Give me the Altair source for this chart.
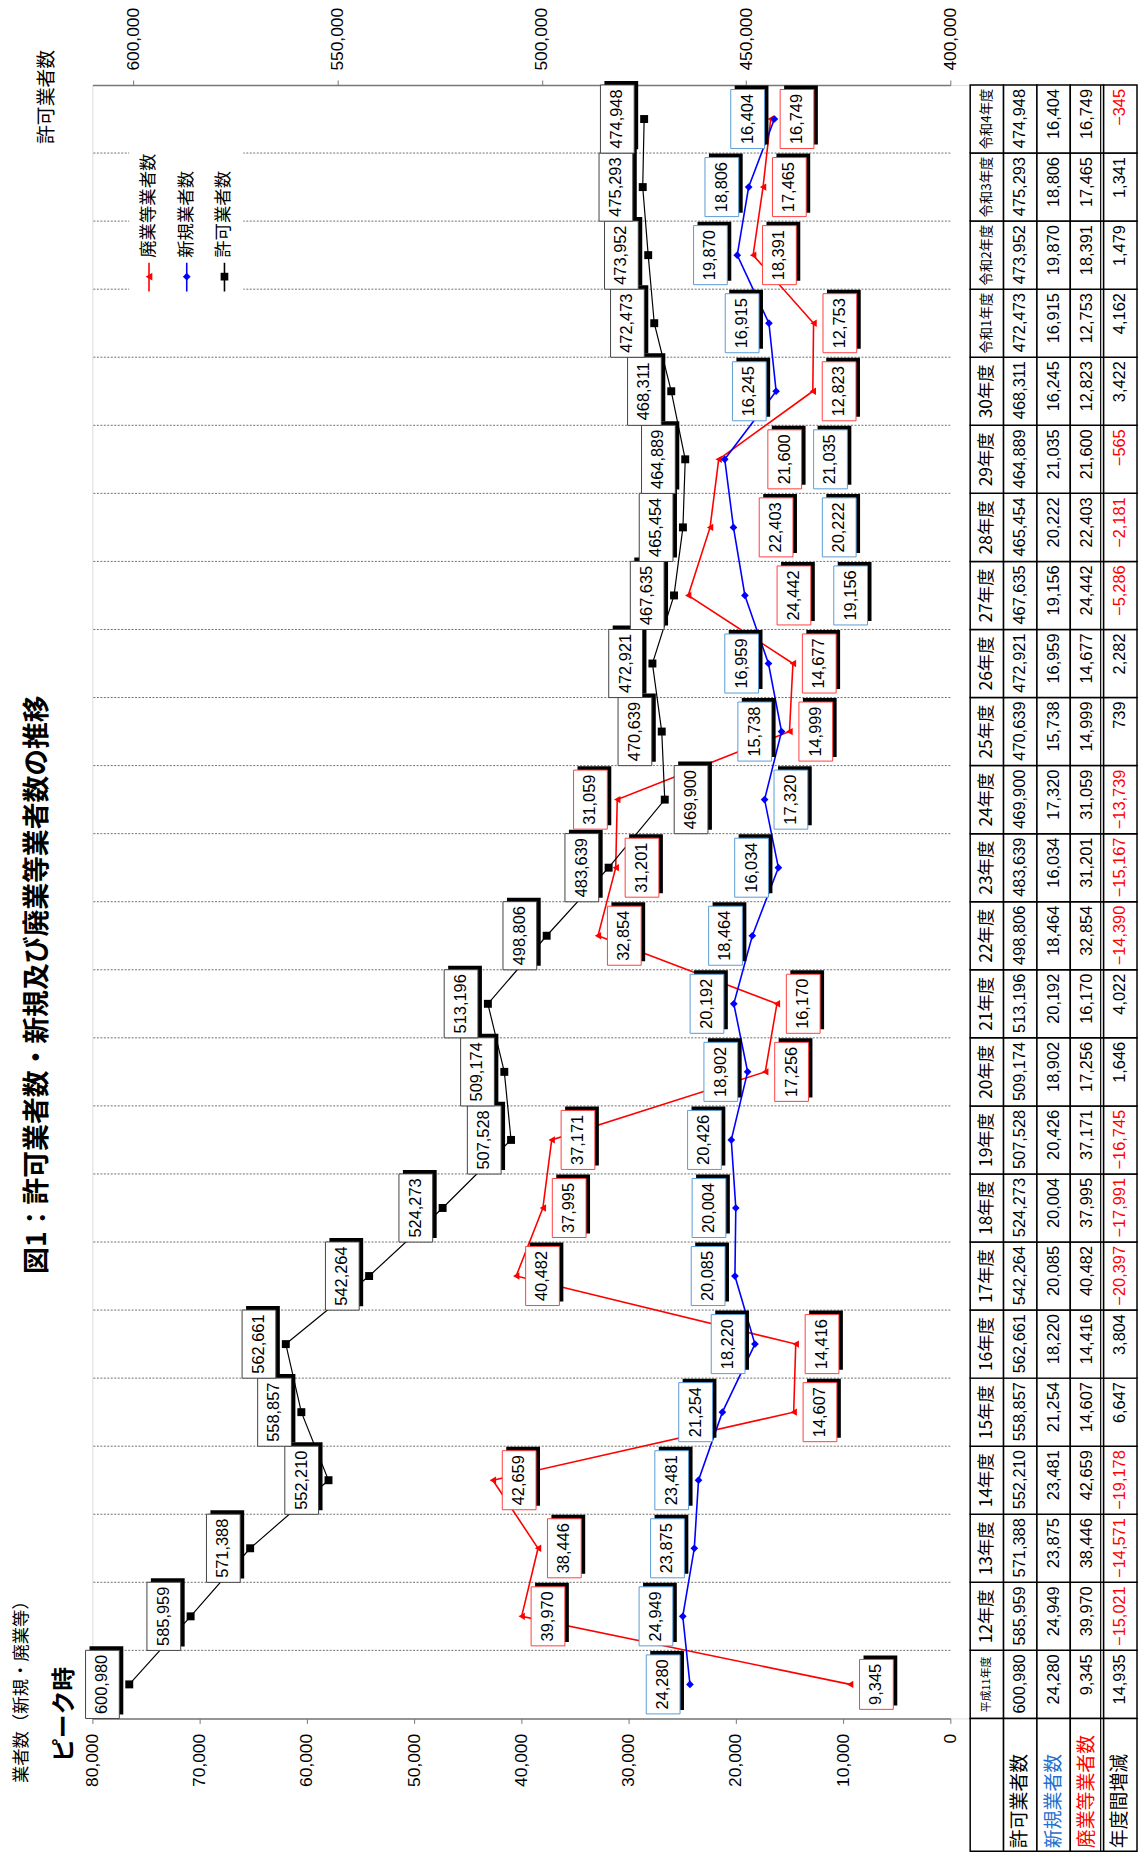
import altair as alt
import pandas as pd

# ---------------- data ----------------
years = ["平成11年度", "12年度", "13年度", "14年度", "15年度", "16年度", "17年度", "18年度",
         "19年度", "20年度", "21年度", "22年度", "23年度", "24年度", "25年度", "26年度",
         "27年度", "28年度", "29年度", "30年度", "令和1年度", "令和2年度", "令和3年度", "令和4年度"]
permit = [600980, 585959, 571388, 552210, 558857, 562661, 542264, 524273, 507528, 509174,
          513196, 498806, 483639, 469900, 470639, 472921, 467635, 465454, 464889, 468311,
          472473, 473952, 475293, 474948]
new = [24280, 24949, 23875, 23481, 21254, 18220, 20085, 20004, 20426, 18902, 20192, 18464,
       16034, 17320, 15738, 16959, 19156, 20222, 21035, 16245, 16915, 19870, 18806, 16404]
closed = [9345, 39970, 38446, 42659, 14607, 14416, 40482, 37995, 37171, 17256, 16170, 32854,
          31201, 31059, 14999, 14677, 24442, 22403, 21600, 12823, 12753, 18391, 17465, 16749]
change = [14935, -15021, -14571, -19178, 6647, 3804, -20397, -17991, -16745, 1646, 4022,
          -14390, -15167, -13739, 739, 2282, -5286, -2181, -565, 3422, 4162, 1479, 1341, -345]

left_ticks = [0, 10000, 20000, 30000, 40000, 50000, 60000, 70000, 80000]
right_ticks = [400000, 450000, 500000, 550000, 600000]

series_names = ["廃業等業者数", "新規業者数", "許可業者数"]
row_names = ["許可業者数", "新規業者数", "廃業等業者数", "年度間増減"]

# label placement hints: sign = side of the point (-left / +right), magnitude = slot
permit_side = [-1] * 13 + [1] + [-1] * 10
new_side = [-1] * 13 + [1] + [-1, -1, 3, 3, 3] + [-1] * 5
closed_side = [1] * 13 + [-1] + [1, 1, 3, 2, 2] + [1] * 5

# ---------------- layout constants ----------------
PW = 864          # width of the value area
W = 1053          # full layer width (value area + table)
H = 1645          # plot height
BAND = H / 24.0
NUM_FONT = "Liberation Sans, Arial, sans-serif"
CJK = "Noto Sans CJK JP"
LFS = 16.5        # data label font size
L_UPP = 80000 / PW
R_UPP = 210000 / PW

LS = alt.Scale(domain=[0, 80000], range=[PW, 0], nice=False, zero=False)
RSC = alt.Scale(domain=[400000, 610000], range=[PW, 0], nice=False, zero=False)
YS = alt.Scale(domain=[0, 24], nice=False, zero=False)
ROWS = ["hdr", "permit", "new", "closed", "change"]
TS = alt.Scale(domain=ROWS, range=[884, 1052], paddingInner=0, paddingOuter=0)

df = pd.DataFrame({
    "year": years, "idx": list(range(len(years))),
    "permit": permit, "new": new, "closed": closed, "change": change,
    "ps": permit_side, "ns": new_side, "cs": closed_side,
})

axis_common = dict(format=",.0f", labelAngle=270, labelBaseline="middle", labelFont=NUM_FONT,
                   labelFontSize=17.5, labelColor="black", labelPadding=10, tickSize=5,
                   tickColor="#777", domainColor="#777", domainWidth=1.5, grid=False,
                   title=None, labelOverlap=False, labelFlush=False)
bottom_axis = alt.Axis(orient="bottom", values=left_ticks, labelAlign="right", **axis_common)
top_axis = alt.Axis(orient="top", values=right_ticks, labelAlign="left", **axis_common)

layers = []

# gridlines at category boundaries
grid = alt.Chart(df).transform_filter("datum.idx > 0").transform_calculate(
    g0="0", g1="80000").mark_rule(color="#707070", strokeDash=[2, 1.5], strokeWidth=1).encode(
    x=alt.X("g0:Q", scale=LS, axis=None), x2="g1:Q",
    y=alt.Y("idx:Q", scale=YS, axis=None))
layers.append(grid)


def series(field, side, scale, upp, color, border, shape, size, sw, axis):
    base = alt.Chart(df).transform_calculate(yc="datum.idx + 0.5")
    line = base.mark_line(color=color, strokeWidth=sw).encode(
        x=alt.X(f"{field}:Q", scale=scale, axis=axis),
        y=alt.Y("yc:Q", scale=YS, axis=None), order="idx:Q")
    pts = base.mark_point(shape=shape, filled=True, size=size, color=color, opacity=1).encode(
        x=alt.X(f"{field}:Q", scale=scale, axis=None),
        y=alt.Y("yc:Q", scale=YS, axis=None))
    lab = base.transform_calculate(
        lbl=f"format(datum.{field}, ',')",
        off=f"datum.{side} < 0 ? -27 + (datum.{side} + 1) * 40 : 26.5 + (datum.{side} - 1) * 40",
        cx=f"datum.{field} - datum.off * {upp}",
        hh=f"((length(datum.lbl) - 1) * 0.556 * {LFS} + 0.278 * {LFS} + 9) / 2 / {BAND}",
        y0="datum.yc - datum.hh", y1="datum.yc + datum.hh")
    shadow = lab.mark_rect(color="black", xOffset=-13, x2Offset=21, yOffset=-4, y2Offset=-4).encode(
        x=alt.X("cx:Q", scale=scale, axis=None), x2="cx:Q",
        y=alt.Y("y0:Q", scale=YS, axis=None), y2="y1:Q")
    box = lab.mark_rect(fill="white", stroke=border, strokeWidth=1, xOffset=-17, x2Offset=17).encode(
        x=alt.X("cx:Q", scale=scale, axis=None), x2="cx:Q",
        y=alt.Y("y0:Q", scale=YS, axis=None), y2="y1:Q")
    txt = lab.mark_text(angle=270, font=NUM_FONT, fontSize=LFS, align="center",
                        baseline="middle", color="black").encode(
        x=alt.X("cx:Q", scale=scale, axis=None),
        y=alt.Y("yc:Q", scale=YS, axis=None), text="lbl:N")
    return [line, pts], [shadow, box, txt]


l1, b1 = series("closed", "cs", LS, L_UPP, "#FF0000", "#FF4040", "triangle-left", 55, 1.6, None)
l2, b2 = series("new", "ns", LS, L_UPP, "#0000FF", "#5B9BD5", "diamond", 60, 1.6, bottom_axis)
l3, b3 = series("permit", "ps", RSC, R_UPP, "#000000", "#444444", "square", 64, 1.2, top_axis)
layers += l1 + l2 + l3 + b3 + b2 + b1

# ---------------- legend ----------------
leg = pd.DataFrame({"name": series_names, "color": ["#FF0000", "#0000FF", "#000000"],
                    "shape": ["triangle-left", "diamond", "square"], "k": [0, 1, 2]})
leg_bg = alt.Chart(pd.DataFrame({"a": [0]})).mark_rect(fill="white").encode(
    x=alt.value(37), x2=alt.value(152), y=alt.value(61), y2=alt.value(213))
legbase = alt.Chart(leg).transform_calculate(lx="57 + datum.k * 38")
leg_line = legbase.mark_rule(strokeWidth=1.6).encode(
    x=alt.X("lx:Q", scale=None), y=alt.value(179), y2=alt.value(208),
    color=alt.Color("color:N", scale=None))
leg_pt = legbase.mark_point(filled=True, size=60, opacity=1).encode(
    x=alt.X("lx:Q", scale=None), y=alt.value(193),
    color=alt.Color("color:N", scale=None), shape=alt.Shape("shape:N", scale=None))
leg_txt = legbase.mark_text(angle=270, align="left", baseline="middle", font=CJK,
                            fontSize=17.5, color="black").encode(
    x=alt.X("lx:Q", scale=None), y=alt.value(174), text="name:N")
layers += [leg_bg, leg_line, leg_pt, leg_txt]

# ---------------- table ----------------
cells = pd.DataFrame([(i, r) for i in range(len(years)) for r in ROWS], columns=["idx", "row"])
cell_rect = alt.Chart(cells).transform_calculate(y0="datum.idx", y1="datum.idx + 1").mark_rect(
    fill="white", stroke="black", strokeWidth=1.5).encode(
    x=alt.X("row:N", scale=TS, axis=None), y=alt.Y("y0:Q", scale=YS, axis=None), y2="y1:Q")
rowlab = pd.DataFrame({"row": ROWS, "name": [""] + row_names,
                       "c": ["black", "black", "#1F6FD0", "#FF0000", "black"]})
rowlab_rect = alt.Chart(rowlab).transform_calculate(y0="-1.95", y1="0").mark_rect(
    fill="white", stroke="black", strokeWidth=1.5).encode(
    x=alt.X("row:N", scale=TS, axis=None), y=alt.Y("y0:Q", scale=YS, axis=None), y2="y1:Q")
rowlab_txt = alt.Chart(rowlab).transform_calculate(y0="-1.95").mark_text(
    angle=270, align="left", baseline="middle", font=CJK, fontSize=19, yOffset=-3).encode(
    x=alt.X("row:N", scale=TS, axis=None), y=alt.Y("y0:Q", scale=YS, axis=None),
    text="name:N", color=alt.Color("c:N", scale=None))
dbl = alt.Chart(pd.DataFrame({"row": ["change"]})).transform_calculate(
    y0="-1.95", y1="24").mark_rule(color="black", strokeWidth=1.2, xOffset=-3).encode(
    x=alt.X("row:N", scale=TS, axis=None, bandPosition=0),
    y=alt.Y("y0:Q", scale=YS, axis=None), y2="y1:Q")
hdr_txt = alt.Chart(df).transform_calculate(
    row="'hdr'", yc="datum.idx + 0.5",
    fs="length(datum.year) >= 6 ? 11 : (length(datum.year) == 5 ? 13.5 : 17.5)").mark_text(
    angle=270, align="center", baseline="middle", font=CJK, color="black").encode(
    x=alt.X("row:N", scale=TS, axis=None), y=alt.Y("yc:Q", scale=YS, axis=None),
    text="year:N", size=alt.Size("fs:Q", scale=None))
vals = []
for key, arr in [("permit", permit), ("new", new), ("closed", closed), ("change", change)]:
    for i, v in enumerate(arr):
        vals.append({"idx": i, "row": key, "v": v})
vals = pd.DataFrame(vals)
val_txt = alt.Chart(vals).transform_calculate(
    yt="datum.idx + 1", lbl="format(datum.v, ',')").mark_text(
    angle=270, align="right", baseline="middle", font=NUM_FONT, fontSize=16.5, yOffset=4).encode(
    x=alt.X("row:N", scale=TS, axis=None), y=alt.Y("yt:Q", scale=YS, axis=None),
    text="lbl:N",
    color=alt.condition("datum.v < 0", alt.value("#FF0000"), alt.value("black")))
layers += [cell_rect, rowlab_rect, dbl, hdr_txt, val_txt, rowlab_txt]

# ---------------- annotations ----------------
def note(text, x, y, size, bold=False):
    return alt.Chart(pd.DataFrame({"t": [text]})).mark_text(
        angle=270, align="center", baseline="middle", font=CJK, fontSize=size,
        fontWeight="bold" if bold else "normal", color="black").encode(
        text="t:N", x=alt.value(x), y=alt.value(y))

layers += [
    note("図1：許可業者数・新規及び廃業等業者数の推移", -55, 906, 27, True),
    note("許可業者数", -46, 12, 19),
    note("業者数（新規・廃業等）", -71, 1614, 17.5),
    note("ピーク時", -28, 1641, 24, True),
]

chart = alt.layer(*layers).resolve_scale(x="independent").properties(
    width=W, height=H,
    autosize=alt.AutoSizeParams(type="none"),
    padding={"left": 85, "top": 71, "right": 0, "bottom": 131},
).configure_view(stroke=None).configure(background="white")

chart.save("out.html", embed_options={"renderer": "svg", "actions": False})
